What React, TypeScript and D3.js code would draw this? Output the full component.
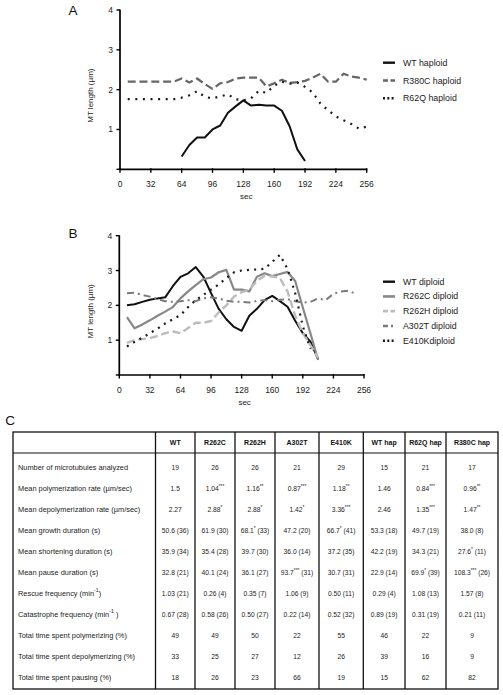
import React from "react";
import * as d3 from "d3";

// ---------- DATA ----------
const SEC = [8, 16, 24, 32, 40, 48, 56, 64, 72, 80, 88, 96, 104, 112, 120, 128, 136, 144, 152, 160, 168, 176, 184, 192, 200, 208, 216, 224, 232, 240, 248, 256];
const xTicks = [0, 32, 64, 96, 128, 160, 192, 224, 256];
const yTicks = [1, 2, 3, 4];

// Panel A (haploid)
const wtHaploid = [0.32, 0.61, 0.8, 0.8, 1.0, 1.1, 1.42, 1.58, 1.73, 1.6, 1.62, 1.6, 1.6, 1.47, 1.08, 0.5, 0.21]; // 64..192
const r380cHaploid = [2.2, 2.2, 2.2, 2.2, 2.2, 2.2, 2.2, 2.28, 2.18, 2.28, 2.14, 2.02, 2.16, 2.19, 2.28, 2.3, 2.3, 2.3, 2.08, 2.16, 2.25, 2.17, 2.19, 2.22, 2.3, 2.4, 2.2, 2.2, 2.4, 2.33, 2.3, 2.25];
const r62qHaploid = [1.76, 1.76, 1.76, 1.76, 1.76, 1.76, 1.76, 1.8, 1.86, 1.96, 1.82, 1.78, 1.83, 1.88, 1.76, 1.73, 1.78, 1.97, 1.92, 2.1, 2.2, 2.15, 2.18, 2.07, 1.93, 1.65, 1.48, 1.33, 1.23, 1.14, 1.02, 1.07];

// Panel B (diploid)
const wtDiploid = [2.0, 2.03, 2.1, 2.16, 2.2, 2.23, 2.55, 2.82, 2.92, 3.1, 2.82, 2.35, 1.9, 1.6, 1.38, 1.27, 1.7, 1.9, 2.15, 2.27, 2.12, 1.96, 1.56, 1.2, 0.96, 0.45];
const r262cDiploid = [1.66, 1.34, 1.45, 1.57, 1.7, 1.82, 1.95, 2.2, 2.4, 2.58, 2.75, 2.8, 2.95, 3.02, 2.45, 2.45, 2.4, 2.82, 2.92, 2.84, 2.9, 2.96, 2.7, 1.94, 1.19, 0.43];
const r262hDiploid = [0.92, 1.0, 1.03, 1.06, 1.12, 1.2, 1.25, 1.2, 1.35, 1.5, 1.5, 1.55, 1.8, 2.0, 2.25, 2.38, 2.45, 2.7, 2.85, 2.83, 2.78, 2.4, 1.7, 1.2, 0.85, 0.5];
const a302tDiploid = [2.35, 2.36, 2.3, 2.25, 2.18, 2.12, 2.1, 2.12, 2.15, 2.12, 2.2, 2.23, 2.2, 2.13, 2.1, 2.1, 2.08, 2.13, 2.15, 2.12, 2.16, 2.18, 2.12, 2.08, 2.1, 2.2, 2.15, 2.33, 2.4, 2.42, 2.32];
const e410kDiploid = [0.82, 0.95, 1.07, 1.2, 1.33, 1.48, 1.6, 1.72, 1.95, 2.15, 2.3, 2.45, 2.6, 2.78, 2.95, 3.0, 3.02, 3.03, 3.05, 3.25, 3.45, 3.05, 2.35, 1.4, 0.75];

// Table (panel C)
const tableColumns = ["WT", "R262C", "R262H", "A302T", "E410K", "WT hap", "R62Q hap", "R380C hap"];
const tableRowLabels = [
  "Number of microtubules analyzed",
  "Mean polymerization rate (\u00b5m/sec)",
  "Mean depolymerization rate (\u00b5m/sec)",
  "Mean growth duration (s)",
  "Mean shortening duration (s)",
  "Mean pause duration (s)",
  "Rescue frequency (min^-1^)",
  "Catastrophe frequency (min^-1^ )",
  "Total time spent polymerizing (%)",
  "Total time spent depolymerizing (%)",
  "Total time spent pausing (%)",
];
const tableValues = [
  ["19", "26", "26", "21", "29", "15", "21", "17"],
  ["1.5", "1.04***", "1.16**", "0.87***", "1.18**", "1.46", "0.84***", "0.96**"],
  ["2.27", "2.88*", "2.88*", "1.42*", "3.36***", "2.46", "1.35***", "1.47**"],
  ["50.6 (36)", "61.9 (30)", "68.1* (33)", "47.2 (20)", "66.7* (41)", "53.3 (18)", "49.7 (19)", "38.0 (8)"],
  ["35.9 (34)", "35.4 (28)", "39.7 (30)", "36.0 (14)", "37.2 (35)", "42.2 (19)", "34.3 (21)", "27.6* (11)"],
  ["32.8 (21)", "40.1 (24)", "36.1 (27)", "93.7*** (31)", "30.7 (31)", "22.9 (14)", "69.9* (39)", "108.3*** (26)"],
  ["1.03 (21)", "0.26 (4)", "0.35 (7)", "1.06 (9)", "0.50 (11)", "0.29 (4)", "1.08 (13)", "1.57 (8)"],
  ["0.67 (28)", "0.58 (26)", "0.50 (27)", "0.22 (14)", "0.52 (32)", "0.89 (19)", "0.31 (19)", "0.21 (11)"],
  ["49", "49", "50", "22", "55", "46", "22", "9"],
  ["33", "25", "27", "12", "26", "39", "16", "9"],
  ["18", "26", "23", "66", "19", "15", "62", "82"],
];

// ---------- STYLE ----------
const FONT = "'Liberation Sans', Arial, Helvetica, sans-serif";

type Series = { name: string; times: number[]; values: number[]; color: string; width: number; dash?: string; legendDash?: string };

const seriesA: Series[] = [
  { name: "WT haploid", times: SEC.slice(7, 24), values: wtHaploid, color: "#111", width: 2 },
  { name: "R380C haploid", times: SEC, values: r380cHaploid, color: "#666", width: 2.2, dash: "8,3.8", legendDash: "5,2.5" },
  { name: "R62Q haploid", times: SEC, values: r62qHaploid, color: "#1a1a1a", width: 2.2, dash: "2,5.6", legendDash: "2,2.3" },
];

const seriesB: Series[] = [
  { name: "WT diploid", times: SEC.slice(0, 26), values: wtDiploid, color: "#111", width: 2 },
  { name: "R262C diploid", times: SEC.slice(0, 26), values: r262cDiploid, color: "#888", width: 2.2 },
  { name: "R262H diploid", times: SEC.slice(0, 26), values: r262hDiploid, color: "#bdbdbd", width: 2.4, dash: "8,3.8", legendDash: "5,2.5" },
  { name: "A302T diploid", times: SEC.slice(0, 31), values: a302tDiploid, color: "#7a7a7a", width: 2, dash: "7,4,2,4", legendDash: "5,3,2,3" },
  { name: "E410Kdiploid", times: SEC.slice(0, 25), values: e410kDiploid, color: "#1a1a1a", width: 2.2, dash: "2,5.2", legendDash: "2,2.3" },
];

function Panel({ label, series, x, y, labelY, legendY, legendStep }: any) {
  const line = d3
    .line<[number, number]>()
    .x((d) => x(d[0]))
    .y((d) => y(d[1]));
  const [x0, x1] = x.range();
  const [y0, y1] = y.range();
  const midX = (x0 + x1) / 2;
  return (
    <g fontFamily={FONT}>
      <text x={73} y={labelY} fontSize={13.5} dominantBaseline="central" textAnchor="middle" fill="#111">
        {label}
      </text>
      {series.map((s: Series) => (
        <path
          key={s.name}
          d={line(s.values.map((v, i) => [s.times[i], v] as [number, number])) || ""}
          fill="none"
          stroke={s.color}
          strokeWidth={s.width}
          strokeDasharray={s.dash}
          strokeLinejoin="round"
        />
      ))}
      {/* axes */}
      <line x1={x0} x2={x0} y1={y0 + 0.8} y2={y1 - 0.5} stroke="#000" strokeWidth={1.7} />
      <line x1={x0} x2={x1 + 0.5} y1={y0} y2={y0} stroke="#000" strokeWidth={1.7} />
      {yTicks.concat([0]).map((t) => (
        <g key={"y" + t}>
          <line x1={x0 - 3.5} x2={x0} y1={y(t)} y2={y(t)} stroke="#000" strokeWidth={1.4} />
          {t > 0 && (
            <text x={x0 - 7} y={y(t)} fontSize={8.5} textAnchor="end" dominantBaseline="central" fill="#222">
              {t}
            </text>
          )}
        </g>
      ))}
      {xTicks.map((t) => (
        <g key={"x" + t}>
          <line x1={x(t)} x2={x(t)} y1={y0 - 1} y2={y0 + 3.5} stroke="#000" strokeWidth={1.4} />
          <text x={x(t)} y={y0 + 15} fontSize={8.5} textAnchor="middle" dominantBaseline="central" fill="#222">
            {t}
          </text>
        </g>
      ))}
      <text x={midX + 3} y={y0 + 27.5} fontSize={8} textAnchor="middle" dominantBaseline="central" fill="#222">
        sec
      </text>
      <text
        transform={`translate(90,${(y0 + y1) / 2 + 6}) rotate(-90)`}
        fontSize={8}
        textAnchor="middle"
        dominantBaseline="central"
        fill="#222"
      >
        MT length (µm)
      </text>
      {/* legend */}
      {series.map((s: Series, i: number) => (
        <g key={"lg" + s.name} transform={`translate(0,${legendY + i * legendStep})`}>
          <line x1={383} x2={395} y1={0} y2={0} stroke={s.color} strokeWidth={s.width + 0.4} strokeDasharray={s.legendDash} />
          <text x={403} y={0} fontSize={8.8} dominantBaseline="central" fill="#222">
            {s.name}
          </text>
        </g>
      ))}
    </g>
  );
}

function splitValue(v: string) {
  const m = v.match(/^([^*]*?)(\*+)(.*)$/);
  if (!m) return [v, "", ""];
  return [m[1], m[2], m[3]];
}

function RowLabel({ text, x, y }: any) {
  const parts = text.split("^");
  return (
    <text x={x} y={y} fontSize={7.4} dominantBaseline="central" fill="#222">
      {parts.map((p: string, i: number) =>
        i % 2 === 1 ? (
          <tspan key={i} fontSize={5.2} dy={-2.8}>
            {p}
          </tspan>
        ) : (
          <tspan key={i} dy={i > 0 ? 2.8 : 0}>
            {p}
          </tspan>
        )
      )}
    </text>
  );
}

function Table() {
  const colX = [13, 155.5, 195, 235, 275, 319, 363.3, 405, 446, 498];
  const top = 432;
  const headBottom = 453;
  const bottom = 689;
  const rowY = d3.scaleLinear().domain([0, 10]).range([467, 677]);
  return (
    <g fontFamily={FONT}>
      <text x={10} y={420} fontSize={13.5} dominantBaseline="central" textAnchor="middle" fill="#111">
        C
      </text>
      <rect x={colX[0]} y={top} width={colX[colX.length - 1] - colX[0]} height={bottom - top} fill="none" stroke="#111" strokeWidth={1.3} />
      <line x1={colX[0]} x2={colX[colX.length - 1]} y1={headBottom} y2={headBottom} stroke="#111" strokeWidth={1.1} />
      {colX.slice(1, -1).map((cx, i) => (
        <line key={i} x1={cx} x2={cx} y1={top} y2={bottom} stroke="#111" strokeWidth={1.3} />
      ))}
      {tableColumns.map((c, i) => (
        <text
          key={c}
          x={(colX[i + 1] + colX[i + 2]) / 2}
          y={(top + headBottom) / 2}
          fontSize={7}
          fontWeight="bold"
          textAnchor="middle"
          dominantBaseline="central"
          fill="#111"
        >
          {c}
        </text>
      ))}
      {tableRowLabels.map((lab, r) => (
        <g key={lab}>
          <RowLabel text={lab} x={18} y={rowY(r)} />
          {tableValues[r].map((v, i) => {
            const [a, stars, rest] = splitValue(v);
            return (
              <text
                key={i}
                x={(colX[i + 1] + colX[i + 2]) / 2}
                y={rowY(r)}
                fontSize={6.7}
                textAnchor="middle"
                dominantBaseline="central"
                fill="#222"
              >
                {a}
                {stars && (
                  <tspan fontSize={4.8} dy={-2}>
                    {stars}
                  </tspan>
                )}
                {stars && <tspan dy={2}>{rest}</tspan>}
              </text>
            );
          })}
        </g>
      ))}
    </g>
  );
}

export default function App() {
  const xA = d3.scaleLinear().domain([0, 256]).range([120, 366.7]);
  const yA = d3.scaleLinear().domain([0, 4]).range([169.3, 10]);
  const xB = d3.scaleLinear().domain([0, 256]).range([119.3, 364]);
  const yB = d3.scaleLinear().domain([0, 4]).range([375, 235.7]);
  return (
    <svg width={503} height={695} style={{ position: "absolute", left: 0, top: 0, background: "#fff" }}>
      <rect width={503} height={695} fill="#fff" />
      <Panel label="A" series={seriesA} x={xA} y={yA} labelY={10} legendY={62.7} legendStep={17.8} />
      <Panel label="B" series={seriesB} x={xB} y={yB} labelY={233} legendY={281.7} legendStep={14.75} />
      <Table />
    </svg>
  );
}
